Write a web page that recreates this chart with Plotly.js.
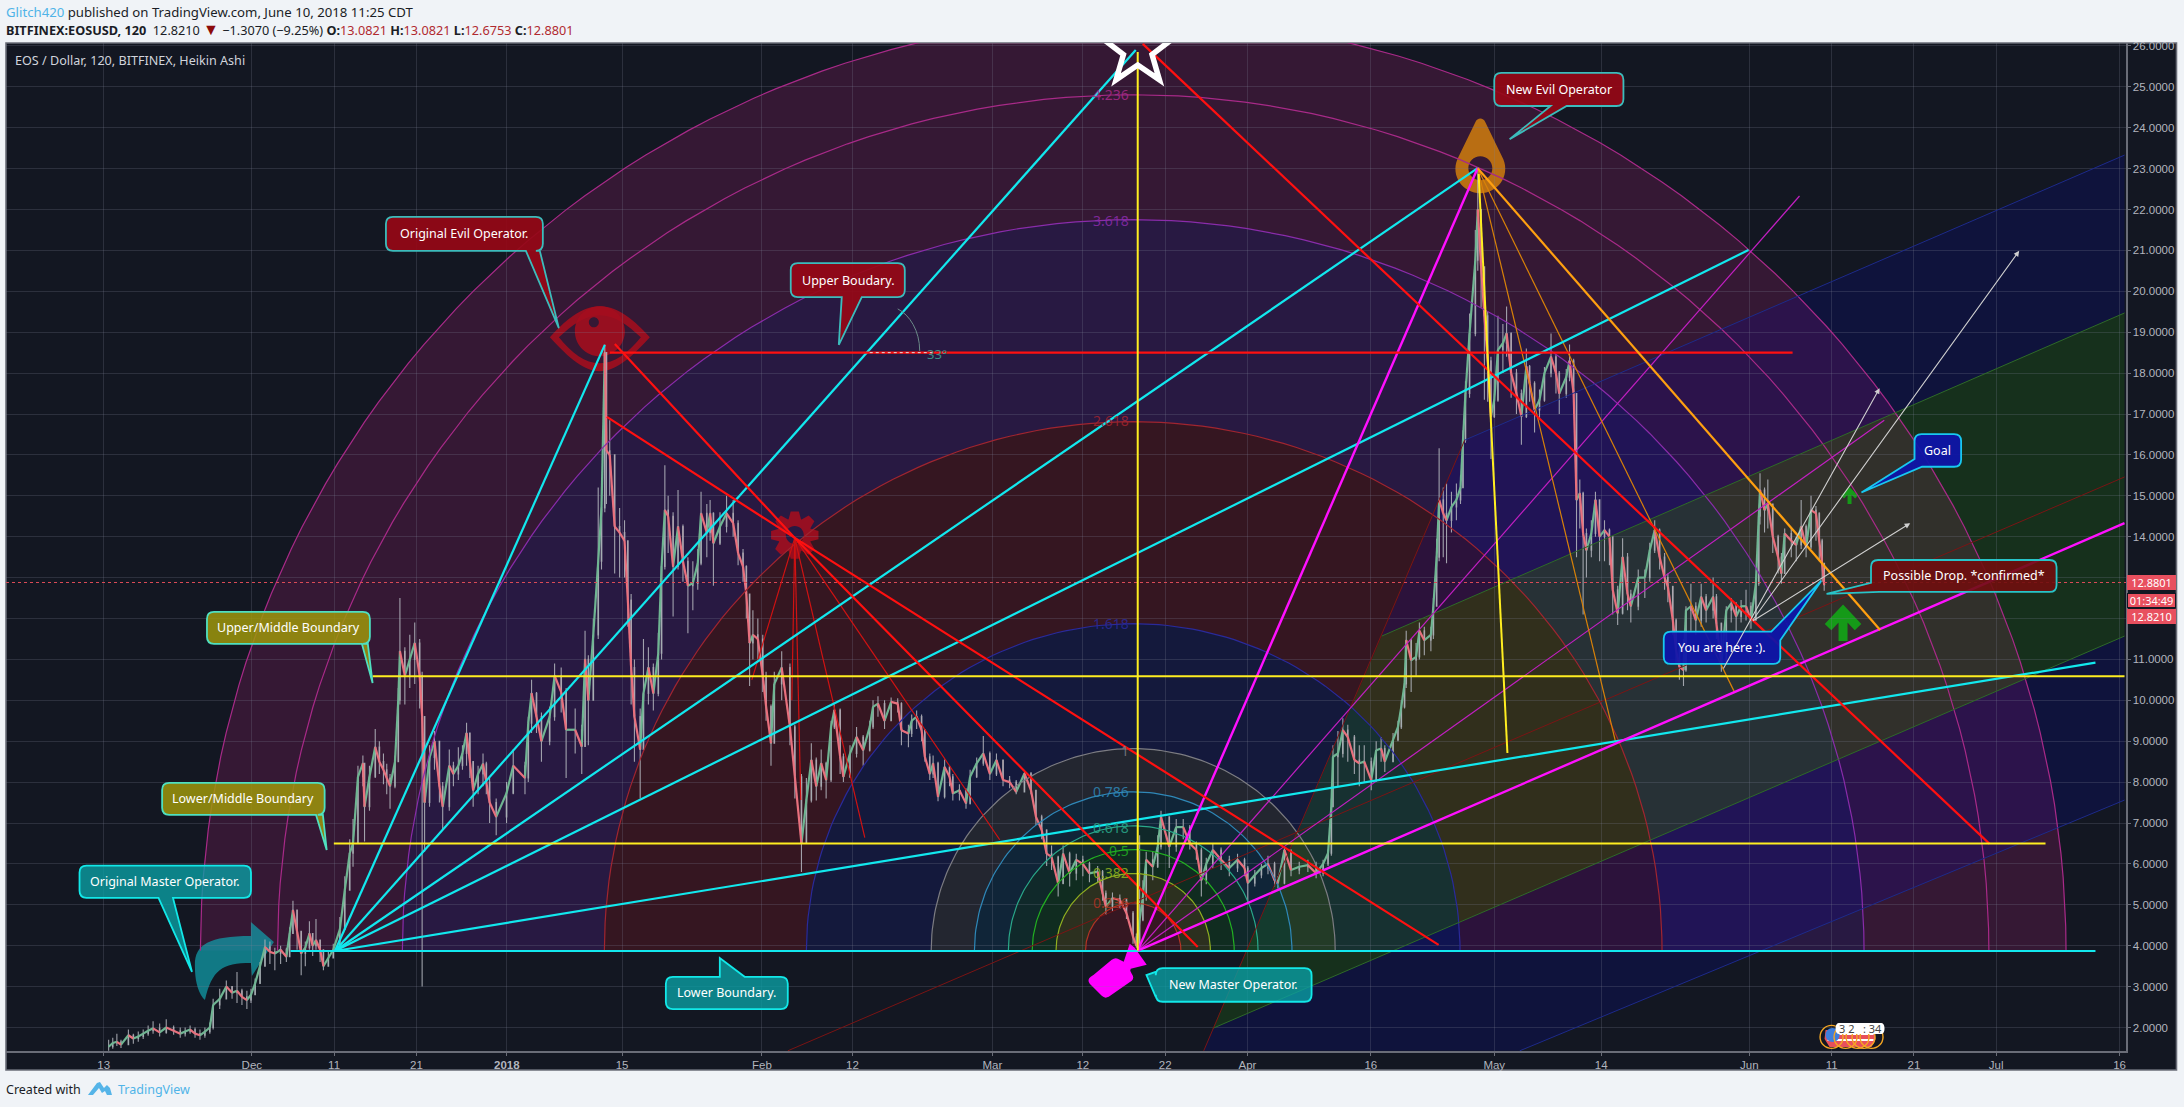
<!DOCTYPE html>
<html><head><meta charset="utf-8">
<script src="https://cdn.plot.ly/plotly-3.0.1.min.js"></script>
<style>html,body{margin:0;padding:0;background:#f0f3f7;overflow:hidden}#c{width:2184px;height:1107px}</style>
</head><body><div id="c"></div>
<script>
// ---------- time in days since 2018-01-01, prices in USD ----------
const tickDays=[-49,-31,-21,-11,0,14,31,42,59,70,80,90,105,120,133,151,161,171,181,196];
const tickLabels=['13','Dec','11','21','<b>2018</b>','15','Feb','12','Mar','12','22','Apr','16','May','14','Jun','11','21','Jul','16'];
const priceTicks=[2,3,4,5,6,7,8,9,10,11,12,13,14,15,16,17,18,19,20,21,22,23,24,25,26];
const priceTickLabels=['2.0000','3.0000','4.0000','5.0000','6.0000','7.0000','8.0000','9.0000','10.0000','11.0000','','','14.0000','15.0000','16.0000','17.0000','18.0000','19.0000','20.0000','21.0000','22.0000','23.0000','24.0000','25.0000','26.0000'];

const barDay=[-48.4,-47.9,-47.4,-46.9,-46.0,-45.4,-44.8,-44.2,-43.6,-43.0,
-42.2,-41.4,-40.5,-39.7,-39.1,-38.5,-37.9,-37.3,-36.7,-36.1,
-35.7,-34.9,-34.1,-33.4,-32.8,-32.2,-31.6,-31.1,-30.6,-30.0,
-29.4,-28.8,-28.2,-27.5,-26.8,-26.4,-26.0,-25.5,-25.0,-24.5,
-24.0,-23.6,-23.2,-22.7,-22.3,-21.7,-21.1,-20.3,-19.7,-19.1,
-18.7,-18.1,-17.5,-17.3,-16.7,-16.0,-15.5,-15.0,-14.6,-14.2,
-13.6,-13.2,-13.0,-12.4,-11.8,-11.2,-10.6,-10.3,-10.0,-9.4,
-8.8,-8.2,-7.8,-7.0,-6.5,-5.9,-5.4,-4.9,-4.5,-4.1,
-3.5,-2.9,-2.5,-2.1,-1.3,-0.04,0.77,2.2,2.6,3.0,
3.6,4.2,5.2,5.8,6.6,7.2,8.3,9.1,9.5,9.9,
10.5,11.1,11.5,11.9,12.1,12.5,13.1,13.7,14.3,14.7,
15.1,15.5,16.2,16.6,17.2,17.8,18.4,18.8,19.2,19.6,
20.2,20.8,21.4,22.0,22.6,23.2,23.6,24.3,24.7,25.1,
25.9,26.7,27.5,28.1,28.7,29.1,29.5,29.9,30.5,31.1,
31.5,32.1,32.5,33.4,34.4,35.0,35.8,36.4,37.0,37.6,
38.2,38.8,39.4,39.8,40.5,40.9,41.7,42.5,43.3,44.1,
44.5,45.1,45.9,46.7,47.5,47.95,48.8,49.2,49.8,50.4,
50.8,51.4,51.8,52.4,53.2,53.8,54.2,55.0,55.8,56.3,
57.1,57.9,58.7,59.5,60.3,61.1,61.9,62.9,63.7,64.3,
65.0,65.6,66.2,67.0,67.6,68.4,69.2,70.0,70.8,71.8,
72.4,72.8,73.6,74.5,75.3,76.1,76.5,76.9,77.3,77.7,
78.5,79.1,79.5,80.5,81.35,82.2,83.0,83.8,84.4,85.0,
85.8,86.8,87.8,88.8,89.65,90.05,90.9,91.7,92.5,93.3,
93.7,94.5,95.3,96.3,97.35,98.35,99.2,99.8,100.2,100.4,
101.0,101.6,102.2,103.0,103.6,104.2,105.05,105.65,106.25,106.7,
107.7,108.3,108.7,109.1,109.3,109.9,110.5,110.9,111.5,112.3,
112.6,113.0,113.3,113.8,114.2,114.8,115.4,115.9,116.2,116.5,
117.0,117.7,118.0,118.4,118.8,119.2,119.6,120.0,120.45,121.05,
121.5,122.05,122.7,123.3,123.9,124.3,124.9,125.5,126.1,126.9,
127.5,127.9,128.75,129.15,129.65,130.0,130.4,130.8,131.2,131.8,
132.3,132.8,133.4,134.0,134.4,135.0,135.6,136.2,136.6,137.5,
138.3,138.9,139.5,140.1,140.7,141.1,141.7,142.1,142.5,143.0,
143.3,143.9,144.5,145.15,145.75,146.6,147.0,147.6,148.2,148.8,
149.4,150.0,150.6,151.2,151.8,152.15,152.3,152.85,153.25,153.85,
154.5,154.9,155.3,156.1,156.7,157.3,157.9,158.5,159.1,159.5,
159.85,160.1];
const barClose=[1.53,1.62,1.65,1.58,1.81,1.73,1.78,1.85,1.92,1.98,
1.88,2.0,1.92,1.85,1.9,1.95,1.85,1.81,1.9,2.0,
2.55,2.7,3.0,2.85,2.9,2.75,2.67,2.8,3.08,3.5,
3.97,3.85,3.81,3.9,3.73,4.3,4.87,4.35,3.81,3.95,
4.3,4.0,4.14,3.9,3.5,3.7,3.9,4.4,5.36,6.26,
6.5,8.13,8.46,7.4,8.13,8.86,8.5,8.3,8.1,7.9,
8.5,10.0,11.2,10.6,11.0,11.4,10.6,9.6,7.5,8.6,
9.0,7.9,7.4,8.4,8.2,8.4,8.7,9.2,8.5,7.8,
8.2,8.45,8.0,7.5,7.15,7.73,8.4,8.1,9.44,10.17,
9.6,9.0,9.6,10.6,10.2,9.28,9.28,8.87,11.0,10.0,
11.6,13.4,14.7,18.5,16.1,16.0,14.25,14.1,13.9,12.45,
10.8,9.6,8.8,10.17,10.8,10.17,11.15,13.27,14.65,14.5,
13.27,14.25,13.4,12.8,12.86,13.35,14.57,14.1,14.57,13.84,
14.25,14.57,14.33,13.6,13.27,12.6,11.4,11.6,11.5,10.6,
9.85,8.95,10.4,10.8,9.35,8.13,6.5,7.56,8.54,7.9,
8.46,8.05,9.35,9.76,8.62,8.13,8.7,9.1,8.78,9.35,
9.84,9.92,9.5,9.96,9.92,9.27,9.19,9.5,9.6,9.27,
8.62,8.2,8.46,7.64,8.37,8.13,7.72,7.8,7.48,8.13,
8.46,8.7,8.2,8.54,8.05,8.0,7.76,8.21,7.8,7.15,
6.83,6.25,6.17,5.52,6.25,5.77,6.1,6.0,5.77,5.81,
5.28,4.95,5.16,5.12,4.8,4.22,4.0,4.63,5.2,6.1,
5.93,6.42,7.15,6.42,6.9,6.9,6.5,6.34,5.6,6.0,
6.34,6.1,5.9,6.1,5.9,5.53,5.73,5.9,6.0,5.6,
5.53,6.34,5.85,5.93,5.97,5.77,6.0,6.26,7.4,8.62,
8.7,9.27,9.1,8.54,8.46,8.5,8.05,8.78,8.82,8.5,
9.03,9.35,9.84,10.4,11.47,10.98,11.06,11.7,11.47,11.6,
12.3,13.5,14.9,14.57,14.4,14.73,14.9,15.2,16.36,17.5,
18.97,20.76,22.0,20.6,19.4,18.3,16.94,17.34,18.57,18.73,
18.97,18.0,17.5,16.94,18.16,17.75,17.1,17.34,18.0,18.4,
18.0,17.5,17.9,18.3,17.5,14.9,15.06,14.08,13.67,14.08,
14.9,14.0,14.16,14.0,12.7,12.13,13.5,12.6,12.3,13.0,
13.0,13.67,14.16,13.5,13.0,12.78,11.96,11.23,10.82,10.74,
12.2,12.3,11.96,12.53,12.2,12.53,11.88,10.9,12.2,12.37,
12.05,12.3,12.3,11.96,12.86,14.5,15.14,14.65,14.8,14.0,
13.5,13.1,14.08,13.9,13.8,14.25,13.75,14.65,14.57,13.9,
13.35,12.82];
const barHigh=[1.7,1.75,1.85,1.7,1.95,1.85,1.9,1.95,2.05,2.15,
2.1,2.2,2.05,2.0,2.0,2.05,2.0,1.95,2.0,2.12,
2.7,2.95,3.15,3.0,3.36,2.95,2.9,2.95,3.2,3.6,
4.15,4.1,3.95,4.0,3.95,4.45,5.1,4.6,4.0,4.1,
4.6,4.3,4.65,4.15,3.75,3.85,4.05,4.7,5.7,6.6,
7.1,8.4,8.65,8.4,8.4,9.3,9.0,8.7,8.45,8.2,
8.65,10.3,12.5,11.3,11.6,11.9,11.5,10.7,9.6,8.9,
9.25,9.0,8.0,8.8,8.5,8.85,8.9,9.45,9.2,8.5,
8.4,8.7,8.5,8.1,7.6,8.0,8.8,8.5,9.6,10.5,
10.2,9.7,9.85,10.9,10.8,10.3,9.8,9.4,11.7,11.1,
12.0,15.2,15.2,18.7,18.4,16.85,16.0,14.7,14.4,13.9,
12.6,11.0,9.8,11.5,11.3,10.9,11.65,13.5,15.75,15.0,
14.6,15.14,14.3,13.5,13.4,13.7,15.1,14.8,14.9,14.6,
14.6,15.0,14.9,14.4,13.7,13.3,12.6,12.2,12.0,11.6,
10.7,9.9,10.7,11.2,10.9,9.4,8.2,8.1,8.95,8.6,
8.8,8.5,9.5,9.9,9.8,8.7,8.9,9.35,9.15,9.5,
10.0,10.1,10.0,10.07,10.05,9.95,9.4,9.65,9.75,9.65,
9.3,8.7,8.65,8.5,8.55,8.4,8.2,7.95,7.85,8.3,
8.6,9.13,8.75,8.7,8.55,8.15,8.05,8.25,8.25,7.8,
7.2,6.85,6.45,6.2,6.45,6.3,6.25,6.2,6.05,5.95,
5.85,5.35,5.3,5.25,5.15,4.85,4.3,6.7,5.6,6.3,
6.3,6.7,7.3,7.1,7.1,7.1,6.95,6.55,6.4,6.15,
6.5,6.4,6.2,6.25,6.15,5.95,5.85,6.0,6.2,6.05,
5.7,6.4,6.35,6.05,6.1,6.05,6.1,6.35,7.6,8.9,
9.25,9.56,9.4,9.15,8.9,8.9,8.6,9.0,9.1,8.9,
9.2,9.5,10.0,10.6,11.7,11.5,11.4,11.9,11.8,11.8,
12.5,13.95,16.16,15.2,15.3,15.1,15.3,15.5,16.6,17.8,
19.46,21.5,23.0,22.0,20.6,19.5,18.4,17.9,19.4,19.2,
19.63,19.0,18.1,17.6,18.6,18.2,17.8,17.6,18.15,18.97,
18.45,18.05,18.1,18.7,18.35,17.5,15.4,15.1,14.2,14.4,
15.1,14.9,14.4,14.2,14.0,12.8,13.96,13.6,12.7,13.2,
13.2,13.85,14.4,14.2,13.6,13.1,12.8,12.0,11.3,11.5,
12.3,12.85,12.4,12.85,12.6,13.0,12.6,11.9,12.3,12.5,
12.4,12.45,12.7,12.4,13.0,14.6,15.55,15.2,15.4,14.8,
14.05,13.6,14.2,14.2,14.0,14.9,14.3,15.0,14.75,14.6,
13.95,13.35];
const barLow=[1.43,1.48,1.55,1.5,1.65,1.6,1.65,1.72,1.8,1.85,
1.78,1.85,1.82,1.75,1.78,1.85,1.75,1.7,1.75,1.85,
1.95,2.45,2.75,2.7,2.6,2.55,2.45,2.6,2.85,3.1,
3.6,3.55,3.4,3.55,3.6,3.8,4.3,3.9,3.28,3.5,
3.9,3.75,3.9,3.6,3.4,3.5,3.7,3.95,4.5,5.4,
5.93,6.5,7.9,6.55,7.3,8.1,8.2,7.95,7.7,7.35,
7.85,8.5,9.9,9.9,10.3,10.4,9.8,3.0,6.3,7.4,
8.3,7.5,6.85,7.3,7.9,8.05,8.3,8.4,8.1,7.4,
7.7,7.9,7.7,7.0,6.7,7.0,7.7,7.7,8.0,9.2,
9.2,8.5,8.9,9.5,9.7,8.1,8.7,8.2,8.9,8.9,
10.0,11.5,13.2,14.6,14.8,15.0,13.1,13.0,13.0,11.8,
9.9,8.5,7.6,8.8,9.9,9.75,10.1,11.0,13.2,13.6,
12.05,13.2,12.9,11.64,12.2,12.7,13.3,13.5,13.9,12.8,
13.8,14.1,14.0,13.3,12.9,12.0,10.35,11.0,11.0,10.2,
9.5,8.4,8.95,10.0,8.9,7.6,5.8,6.9,7.5,7.55,
7.8,7.6,8.0,9.3,8.2,8.0,8.1,8.6,8.4,8.75,
9.3,9.6,9.3,9.5,9.7,8.9,8.85,9.1,9.3,9.0,
8.5,8.05,8.1,7.53,7.6,7.9,7.55,7.55,7.35,7.45,
8.1,8.4,8.05,8.15,7.9,7.85,7.7,7.75,7.7,6.95,
6.6,5.95,5.85,5.2,5.5,5.45,5.6,5.7,5.55,5.55,
5.1,4.75,4.85,4.9,4.65,4.05,3.95,3.95,4.6,5.1,
5.6,5.9,6.35,5.9,6.3,6.6,6.35,6.1,5.2,5.5,
5.9,5.85,5.7,5.8,5.7,5.05,5.45,5.65,5.75,5.45,
5.4,5.5,5.7,5.75,5.8,5.65,5.7,5.95,6.2,7.4,
7.9,8.6,8.5,8.2,7.9,8.0,7.8,8.0,8.5,8.25,
8.6,9.0,9.3,9.8,10.3,10.2,10.6,11.0,11.1,11.2,
11.5,12.3,13.4,13.5,13.35,14.1,14.4,14.8,15.2,16.3,
17.4,18.9,20.5,19.6,17.35,17.3,15.9,16.9,17.3,18.0,
18.4,17.4,17.0,16.25,16.9,17.3,16.55,16.9,17.3,17.9,
17.5,17.0,17.4,17.8,17.0,13.5,14.2,12.1,13.0,13.5,
14.0,13.4,13.4,13.3,12.1,11.84,12.1,12.2,11.9,12.2,
12.5,12.9,13.6,13.2,12.7,12.4,11.6,10.9,10.5,10.35,
10.7,11.7,11.6,11.8,11.9,12.0,11.5,10.7,10.9,11.9,
11.65,11.9,11.95,11.75,11.95,12.8,14.3,14.1,14.2,13.6,
13.1,12.85,13.1,13.5,13.4,13.7,13.5,13.7,13.9,13.4,
12.9,12.68];
if(new Set([barDay.length,barClose.length,barHigh.length,barLow.length]).size>1)throw new Error('lengths '+[barDay.length,barClose.length,barHigh.length,barLow.length]);

// ---------- drawing tools, as [day, price] ----------
const cyanLines=[[[-20.9,3.87],[11.9,18.69]],[[-20.9,3.87],[76.43,25.9]],[[-20.9,3.87],[117.98,23.01]],[[-20.9,3.87],[150.9,21.01]],[[-20.9,3.87],[193.07,10.92]],[[-26.3,3.87],[193.07,3.87]]];
const redThick=[[[13.12,18.71],[34.99,13.97],[83.96,3.97]],[[12.15,16.93],[34.99,13.97],[113.24,4.02]],[[77.28,26.05],[180.2,6.49]],[[12.52,18.5],[156.26,18.5]]];
const redThin=[[[34.99,13.97],[29.77,10.5]],[[34.99,13.97],[34.63,10.0]],[[34.99,13.97],[35.72,7.56]],[[34.99,13.97],[43.5,6.64]],[[34.99,13.97],[59.9,6.59]]];
const magentaThick=[[[76.67,3.88],[117.98,23.01]],[[76.67,3.88],[196.6,14.33]]];
const magentaThin=[[[76.67,3.88],[157.1,22.33]],[[76.67,3.88],[167.4,16.85]]];
const orangeThick=[[[117.98,23.01],[166.9,11.72]]];
const orangeThin=[[[117.98,23.01],[134.75,8.98]],[[117.98,23.01],[149.2,10.2]]];
const yellowThick=[[[118.1,22.87],[121.6,8.71]],[[76.67,25.85],[76.67,3.88]],[[-16.32,10.59],[196.6,10.59]],[[-21.03,6.5],[187.0,6.5]]];
const forkGreen=[[[106.32,11.57],[196.6,19.47]],[[85.8,1.98],[196.6,11.57]]];
const forkBlue=[[[116.4,16.36],[196.6,23.33]],[[123.1,1.43],[196.6,7.56]]];
const forkRed=[[[34.14,1.43],[196.6,15.46]],[[116.4,16.36],[84.69,1.43]]];
const whiteArrows=[[[147.75,10.74],[166.83,17.63]],[[151.27,11.92],[183.8,20.99]],[[151.27,11.92],[170.55,14.33]]];
const angleDots=[[44.1,18.5],[52.0,18.5]];
const lastClosePrice=12.88;
const forkUpperBand=[[116.4,16.36],[196.6,23.33],[196.6,19.47],[106.32,11.57]];
const forkMiddleBand=[[106.32,11.57],[196.6,19.47],[196.6,11.57],[85.8,1.98]];
const forkLowerBand=[[85.8,1.98],[196.6,11.57],[196.6,7.56],[123.1,1.43],[84.69,1.43]];
const fibLevels=[0.236,0.382,0.5,0.618,0.786,1,1.618,2.618,3.618,4.236,4.618];
const fibLabels=[[0.236,5.05],[0.382,5.78],[0.5,6.32],[0.618,6.9],[0.786,7.76],[1,8.78],[1.618,11.87],[2.618,16.83],[3.618,21.74],[4.236,24.8]];
const fibCenter=[76.12,3.88], fibUnit=[24.55,4.94];
const callouts=[
 {t:'Original Evil Operator.',box:[-14.7,21.82,4.37,20.99],at:'bottom',p:[[4.0,20.99],[6.32,19.1],[2.31,20.99]],s:'evil'},
 {t:'Upper Boudary.',box:[34.5,20.69,48.36,19.86],at:'bottom',p:[[43.13,19.86],[40.34,18.69],[40.7,19.86]],s:'evil'},
 {t:'New Evil Operator',box:[120.0,25.34,135.7,24.53],at:'bottom',p:[[128.8,24.53],[121.87,23.72],[126.85,24.53]],s:'evil'},
 {t:'Upper/Middle Boundary',box:[-36.45,12.16,-16.65,11.38],at:'bottom',p:[[-16.9,11.38],[-16.32,10.42],[-17.62,11.38]],s:'olive'},
 {t:'Lower/Middle Boundary',box:[-41.9,7.98,-22.15,7.2],at:'bottom',p:[[-22.36,7.2],[-21.9,6.34],[-23.2,7.2]],s:'olive'},
 {t:'Original Master Operator.',box:[-51.94,5.96,-31.1,5.17],at:'bottom',p:[[-40.58,5.17],[-38.27,3.36],[-42.34,5.17]],s:'teal'},
 {t:'Lower Boundary.',box:[19.32,3.24,34.14,2.45],at:'top',p:[[25.88,3.24],[25.88,3.7],[28.9,3.24]],s:'teal'},
 {t:'New Master Operator.',box:[78.86,3.45,97.8,2.63],at:'left',p:[[78.86,2.75],[77.73,3.28],[78.86,3.36]],s:'teal'},
 {t:'You are here :).',box:[140.6,11.68,154.76,10.89],at:'tr',p:[[153.67,11.68],[159.74,12.92],[154.76,11.47]],s:'blue'},
 {t:'Goal',box:[171.08,16.51,176.74,15.71],at:'bl',p:[[172.0,15.71],[164.63,15.08],[171.08,15.9]],s:'blue'},
 {t:'Possible Drop. *confirmed*',box:[165.79,13.43,188.34,12.65],at:'bl',p:[[166.8,12.65],[160.39,12.6],[165.79,12.87]],s:'drop'}
];
const iconAnchors={eye:[11.3,18.83],gear:[34.99,14.04],drop:[118.31,23.01],star:[76.67,25.9],bottle:[74.24,3.41],curved:[-33.66,3.65],bigUp:[162.39,11.96],smallUp:[163.18,15.02],flags:[163.18,1.77],angle:[47.5,19.57]};
const priceTags=[['12.8801',12.88,'#e8505f'],['01:34:49',12.45,'#131722'],['12.8210',12.04,'#e8505f']];

// ---------- scales and styles ----------
const PXD=8.23, PXP=40.9, PANE={l:6,r:2126.5,t:43,b:1051};
const FONT='"Noto Sans", "Open Sans", sans-serif';
const xRange=[(PANE.l-507)/PXD,(PANE.r-507)/PXD], yRange=[4+(945.7-PANE.b)/PXP,4+(945.7-PANE.t)/PXP];
const styles={
 evil:{f:'rgba(150,8,22,.92)',l:'#3cbcbc'},olive:{f:'rgba(158,150,12,.85)',l:'#4fe0c0'},
 teal:{f:'rgba(10,160,165,.78)',l:'#12e8e8'},blue:{f:'rgba(14,20,170,.93)',l:'#18c8f0'},
 drop:{f:'rgba(112,14,14,.9)',l:'#28c4c8'}};
const ringFill=['rgba(255,30,40,.15)','rgba(170,170,20,.17)','rgba(0,180,20,.14)','rgba(0,170,110,.12)','rgba(0,140,220,.12)','rgba(200,200,200,.09)','rgba(30,40,255,.12)','rgba(255,20,30,.145)','rgba(160,40,255,.15)','rgba(233,30,150,.155)','rgba(233,30,150,.155)'];
const ringLine=['#b03424','#90b020','#22b022','#2aa88a','#2f88b8','#7c7c82','#2a2a9a','#a02530','#8a2caa','#a82a88','#a82a88'];

const traces=[], shapes=[], annotations=[];
// candles: grey wick + body
const barOpen=barClose.map((c,i)=>i?barClose[i-1]:c);
traces.push({type:'candlestick',x:barDay,open:barOpen,high:barHigh,low:barLow,close:barClose,hoverinfo:'skip',showlegend:false,
 increasing:{line:{color:'rgba(178,180,188,.88)',width:1.1},fillcolor:'#6fb592'},decreasing:{line:{color:'rgba(178,180,188,.88)',width:1.1},fillcolor:'#e8707d'}});
const seg={up:{x:[],y:[]},dn:{x:[],y:[]}};
barClose.forEach((c,i)=>{ if(!i)return; const k=c>=barClose[i-1]?'up':'dn'; seg[k].x.push(barDay[i-1],barDay[i],null); seg[k].y.push(barClose[i-1],c,null);});
function addLine(x,y,color,width,dash){traces.push({type:'scatter',mode:'lines',x,y,line:{color,width,dash:dash||'solid',shape:'linear'},hoverinfo:'skip',showlegend:false});}
addLine(seg.up.x,seg.up.y,'#6fb592',2.2);
addLine(seg.dn.x,seg.dn.y,'#e8707d',2.2);

// helpers
function polyPath(pts){return 'M'+pts.map(p=>p[0]+','+p[1]).join('L')+'Z';}
function fillShape(path,color,layer){shapes.push({type:'path',path,xref:'x',yref:'y',fillcolor:color,line:{width:0},layer:layer||'below'});}
function arcPts(level,rev){const o=[];const rx=fibUnit[0]*level,ry=fibUnit[1]*level;for(let i=0;i<=120;i++){const a=Math.PI*(rev?i:120-i)/120;o.push([+(fibCenter[0]+rx*Math.cos(a)).toFixed(3),+(fibCenter[1]+ry*Math.sin(a)).toFixed(3)]);}return o;}
// ring fills
fibLevels.forEach((lv,i)=>{const pts=arcPts(lv,false);if(i){pts.push(...arcPts(fibLevels[i-1],true));}fillShape(polyPath(pts),ringFill[i]);});
fillShape(polyPath(forkUpperBand),'rgba(0,0,190,.17)');
fillShape(polyPath(forkMiddleBand),'rgba(40,140,10,.21)');
fillShape(polyPath(forkLowerBand),'rgba(0,0,190,.17)');
// icons, local px offsets around a data anchor
function local(anchor,str){return str.replace(/(-?[\d.]+),(-?[\d.]+)/g,(m,a,b)=>(anchor[0]+a/PXD).toFixed(3)+','+(anchor[1]-b/PXP).toFixed(3));}
function circ(cx,cy,r,ccw){const k=.5523*r;return ccw?
 `M${cx},${cy-r}C${cx-k},${cy-r} ${cx-r},${cy-k} ${cx-r},${cy}C${cx-r},${cy+k} ${cx-k},${cy+r} ${cx},${cy+r}C${cx+k},${cy+r} ${cx+r},${cy+k} ${cx+r},${cy}C${cx+r},${cy-k} ${cx+k},${cy-r} ${cx},${cy-r}Z`:
 `M${cx},${cy-r}C${cx+k},${cy-r} ${cx+r},${cy-k} ${cx+r},${cy}C${cx+r},${cy+k} ${cx+k},${cy+r} ${cx},${cy+r}C${cx-k},${cy+r} ${cx-r},${cy+k} ${cx-r},${cy}C${cx-r},${cy-k} ${cx-k},${cy-r} ${cx},${cy-r}Z`;}
const EVIL='rgba(165,14,30,.88)';
fillShape(local(iconAnchors.eye,'M-50,-2C-30,-24 -15,-33 0,-33C15,-33 30,-24 50,-2C30,20 15,32 0,32C-15,32 -30,20 -50,-2Z M-41,-2C-28,-14 -15,-24 0,-24C15,-24 28,-14 41,-2C28,14 15,24 0,24C-15,24 -28,14 -41,-2Z'),EVIL);
fillShape(local(iconAnchors.eye,circ(0,-8,25)+circ(-6,-17,5,true)),EVIL);
let g='';for(let i=0;i<8;i++){const a=i*Math.PI/4,w=.17,rr=[[24,-w],[24,w],[17,w*2.2],[17,Math.PI/4-w*2.2]];rr.forEach((q,j)=>{const t=a+q[1];g+=(i||j?'L':'M')+(q[0]*Math.sin(t)).toFixed(1)+','+(-q[0]*Math.cos(t)).toFixed(1);});}
fillShape(local(iconAnchors.gear,g+'Z'+circ(0,0,9,true)),EVIL);
fillShape(local(iconAnchors.drop,'M-5,-46C-3,-51 3,-51 5,-46L23,-9C30,8 17,25 0,25C-17,25 -30,8 -23,-9Z'+circ(0,0,12,true)),'rgba(200,120,16,.9)');
fillShape(local(iconAnchors.curved,'M-27,38C-33,30 -35,18 -35,7C-36,-15 -22,-24 21,-24L21,-38L44,-18L22,16L21,3C-8,3 -18,10 -25,40Z'),'rgba(16,160,172,.72)');
fillShape(local(iconAnchors.bottle,'M-24,5L-6,-10Q-2,-13 2,-10L6,-8L12,-26L17,-22L29,-5L13,-1L12.5,1L14,4Q17,8 14,11L-9,27Q-13,29 -16,26L-28,14Q-31,10 -27,7Z'),'#ff00ff');
shapes.push({type:'path',path:local(iconAnchors.bigUp,'M-15,7L0,-9L15,7M0,-9L0,21'),xref:'x',yref:'y',line:{color:'#159a18',width:9},layer:'below'});
shapes.push({type:'path',path:local(iconAnchors.smallUp,'M-7,2L0,-5L7,2M0,-5L0,9'),xref:'x',yref:'y',line:{color:'#159a18',width:4},layer:'below'});
// flags
fillShape(local(iconAnchors.flags,'M-24,-7L24,-7L26,2L22,10L-20,10L-25,2Z'),'#e8505b','above');
[-3,3].forEach(o=>shapes.push({type:'path',path:local(iconAnchors.flags,`M-22,${o}L24,${o}`),xref:'x',yref:'y',line:{color:'#fff',width:2},layer:'above'}));
fillShape(local(iconAnchors.flags,circ(-17,-2,7)),'#3f7fdc','above');
[-18,-4,8,14,22].forEach(o=>shapes.push({type:'path',path:local(iconAnchors.flags,circ(o,0,11.5)),xref:'x',yref:'y',line:{color:'#f5a623',width:1.4},layer:'above'}));
fillShape(local(iconAnchors.flags,'M-11,-14L32,-14C36,-14 36,-3 32,-3L-11,-3C-15,-3 -15,-14 -11,-14Z'),'#ffffff','above');
annotations.push({xref:'x',yref:'y',x:iconAnchors.flags[0]+11/PXD,y:iconAnchors.flags[1]+8.5/PXP,text:'3 2   : 34',showarrow:false,font:{family:FONT,size:11,color:'#444'}});

// fib arc outlines and labels
fibLevels.forEach((lv,i)=>{const p=arcPts(lv,false);addLine(p.map(q=>q[0]),p.map(q=>q[1]),ringLine[i],1.2);});
fibLabels.forEach(f=>{const i=fibLevels.indexOf(f[0]);annotations.push({xref:'x',yref:'y',x:75.8,y:f[1],xanchor:'right',yanchor:'middle',text:String(f[0]),showarrow:false,font:{family:FONT,size:14,color:ringLine[i]},opacity:.85});});
// fork + tools
function draw(list,color,w,dash){list.forEach(l=>addLine(l.map(p=>p[0]),l.map(p=>p[1]),color,w,dash));}
draw(forkBlue,'#1d2a8a',1); draw(forkGreen,'#2e6a28',1); draw(forkRed,'#7a1414',1);
addLine(xRange,[lastClosePrice,lastClosePrice],'#d94a56',1,'dot');
draw(magentaThin,'#c21fc2',1.2); draw(redThin,'#d01212',1.2); draw(orangeThin,'#d98208',1.2);
draw(cyanLines,'#12e8ee',2.2); draw(magentaThick,'#ff10ff',2.4); draw(redThick,'#ff1010',2.2); draw(orangeThick,'#ffa010',2.2);
draw(yellowThick,'#ffee20',2);
draw([angleDots],'#e0e0e0',1,'dot');
whiteArrows.forEach(a=>annotations.push({xref:'x',yref:'y',axref:'x',ayref:'y',x:a[1][0],y:a[1][1],ax:a[0][0],ay:a[0][1],text:'',showarrow:true,arrowhead:2,arrowsize:1,arrowwidth:1.1,arrowcolor:'#d0d0d0'}));
// star
let st='';for(let i=0;i<10;i++){const r=i%2?15:37,a=i*Math.PI/5;st+=(i?'L':'M')+(r*Math.sin(a)).toFixed(1)+','+(-r*Math.cos(a)).toFixed(1);}
shapes.push({type:'path',path:local(iconAnchors.star,st+'Z'),xref:'x',yref:'y',line:{color:'#ffffff',width:5.5},layer:'above'});
// angle tool
shapes.push({type:'path',path:local(iconAnchors.angle,'M0,0C12,6 22,22 22,42'),xref:'x',yref:'y',line:{color:'#6b8a88',width:1},layer:'above'});
annotations.push({xref:'x',yref:'y',x:52.3,y:18.47,text:'33°',showarrow:false,font:{family:FONT,size:13,color:'#3d8f86'}});
// callouts
function callout(c){const [L,T,R,B]=c.box,rx=7/PXD,ry=7/PXP,p=c.p.map(q=>q[0]+','+q[1]).join('L');
 let d=`M${L+rx},${T}`;
 if(c.at==='top')d+='L'+p;
 if(c.at==='tr')d+='L'+p; else d+=`L${R-rx},${T}Q${R},${T} ${R},${T-ry}`;
 d+=`L${R},${B+ry}Q${R},${B} ${R-rx},${B}`;
 if(c.at==='bottom')d+='L'+p;
 if(c.at==='bl')d+='L'+p; else d+=`L${L+rx},${B}Q${L},${B} ${L},${B+ry}`;
 if(c.at==='left')d+='L'+p;
 d+=`L${L},${T-ry}Q${L},${T} ${L+rx},${T}Z`;
 const s=styles[c.s];
 shapes.push({type:'path',path:d,xref:'x',yref:'y',fillcolor:s.f,line:{color:s.l,width:1.8},layer:'above'});
 annotations.push({xref:'x',yref:'y',x:(L+R)/2,y:(T+B)/2,text:c.t,showarrow:false,font:{family:FONT,size:12.5,color:'#ffffff'}});
}
callouts.forEach(callout);
// frame around pane + axes
const W=PANE.r-PANE.l,H=PANE.b-PANE.t;
const pX=x=>(x-PANE.l)/W,pY=y=>(PANE.b-y)/H;
shapes.push({type:'rect',xref:'paper',yref:'paper',x0:pX(6),x1:pX(2177),y0:pY(1070),y1:pY(43),fillcolor:'#131722',line:{color:'#6a6d78',width:1.6},layer:'below'});
// logo
shapes.push({type:'path',xref:'paper',yref:'paper',layer:'above',fillcolor:'#55b4e8',line:{width:0},
 path:'M'+[[88,1095],[97,1083],[100,1082],[104,1088],[107,1085],[110,1088],[112,1095],[107,1095],[105,1091],[102,1093],[99,1088],[93,1095]].map(p=>pX(p[0]).toFixed(5)+','+pY(p[1]).toFixed(5)).join('L')+'Z'});
// texts
function paperText(x,y,text,size,color,extra){annotations.push(Object.assign({xref:'paper',yref:'paper',x:pX(x),y:pY(y),xanchor:'left',yanchor:'middle',text,showarrow:false,font:{family:FONT,size,color}},extra||{}));}
const RED='#b02a30';
paperText(4,12,'<span style="color:#4fb3e8">Glitch420</span> published on TradingView.com, June 10, 2018 11:25 CDT',13.2,'#1a1d26');
paperText(4,29,`<b>BITFINEX:EOSUSD, 120</b>  12.8210 <span style="color:#8c0a0a;font-size:16px">▼</span> −1.3070 (−9.25%) <b>O:</b><span style="color:${RED}">13.0821</span> <b>H:</b><span style="color:${RED}">13.0821</span> <b>L:</b><span style="color:${RED}">12.6753</span> <b>C:</b><span style="color:${RED}">12.8801</span>`,12.7,'#1a1d26');
paperText(13,60,'EOS / Dollar, 120, BITFINEX, Heikin Ashi',12.6,'#d1d4dc');
paperText(4,1089,'Created with',12.5,'#1a1d26');
paperText(116,1089,'TradingView',12.5,'#4fb3e8');
priceTags.forEach(t=>annotations.push({xref:'paper',yref:'y',x:pX(2152),y:t[1],xanchor:'center',yanchor:'middle',width:47,height:13,text:t[0],showarrow:false,bgcolor:'#e8505f',bordercolor:t[2],borderwidth:1,borderpad:0,font:{family:FONT,size:11,color:'#fff'}}));

const axisCommon={showgrid:true,gridcolor:'rgba(125,130,150,.24)',gridwidth:1,zeroline:false,showline:true,linecolor:'#6a6d78',linewidth:1.5,ticks:'outside',ticklen:3,tickcolor:'#6a6d78',tickfont:{family:'"Liberation Sans", sans-serif',size:11.5,color:'#b2b5be'}};
Plotly.newPlot('c',traces,{
 width:2184,height:1107,margin:{l:PANE.l,r:2184-PANE.r,t:PANE.t,b:1107-PANE.b,pad:0},
 paper_bgcolor:'#f0f3f7',plot_bgcolor:'#131722',showlegend:false,hovermode:false,dragmode:false,
 xaxis:Object.assign({},axisCommon,{type:'linear',range:xRange,tickmode:'array',tickvals:tickDays,ticktext:tickLabels,rangeslider:{visible:false},fixedrange:true}),
 yaxis:Object.assign({},axisCommon,{type:'linear',side:'right',range:yRange,tickmode:'array',tickvals:priceTicks,ticktext:priceTickLabels,fixedrange:true}),
 shapes,annotations
},{displayModeBar:false,staticPlot:true});
</script></body></html>
